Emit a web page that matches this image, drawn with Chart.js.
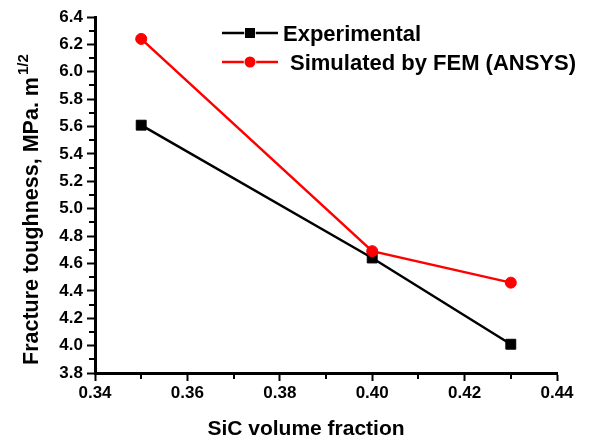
<!DOCTYPE html>
<html>
<head>
<meta charset="utf-8">
<script src="https://cdn.jsdelivr.net/npm/chart.js@4/dist/chart.umd.min.js"></script>
<style>
html,body{margin:0;padding:0;background:#fff;}
#wrap{width:592px;height:441px;}
</style>
</head>
<body>
<div id="wrap"><canvas id="c" width="592" height="441"></canvas></div>
<script>
const xValues = [0.35, 0.40, 0.43];
const experimental = [5.61, 4.64, 4.01];
const simulated = [6.24, 4.69, 4.46];
const seriesLabels = ['Experimental', 'Simulated by FEM (ANSYS)'];
const xTicks = [0.34, 0.36, 0.38, 0.40, 0.42, 0.44];
const yTicks = [3.8, 4.0, 4.2, 4.4, 4.6, 4.8, 5.0, 5.2, 5.4, 5.6, 5.8, 6.0, 6.2, 6.4];
const xTitle = 'SiC volume fraction';
const yTitle = 'Fracture toughness, MPa. m';
const yTitleSup = '1/2';

const FONT = '"Liberation Sans", Arial, sans-serif';

const bgPlugin = {
  id: 'bg',
  beforeDraw(chart) {
    const ctx = chart.ctx;
    ctx.save();
    ctx.fillStyle = '#fff';
    ctx.fillRect(0, 0, chart.width, chart.height);
    ctx.restore();
  }
};

const decorPlugin = {
  id: 'decor',
  afterDraw(chart) {
    const ctx = chart.ctx;
    const xs = chart.scales.x, ys = chart.scales.y;
    const area = chart.chartArea;
    ctx.save();
    // minor ticks
    ctx.strokeStyle = '#000';
    ctx.lineWidth = 2;
    for (let i = 0; i < xTicks.length - 1; i++) {
      const px = Math.round(xs.getPixelForValue((xTicks[i] + xTicks[i + 1]) / 2));
      ctx.beginPath();
      ctx.moveTo(px, area.bottom);
      ctx.lineTo(px, area.bottom + 6);
      ctx.stroke();
    }
    for (let i = 0; i < yTicks.length - 1; i++) {
      const py = Math.round(ys.getPixelForValue((yTicks[i] + yTicks[i + 1]) / 2));
      ctx.beginPath();
      ctx.moveTo(area.left, py);
      ctx.lineTo(area.left - 6, py);
      ctx.stroke();
    }
    // axis titles
    ctx.fillStyle = '#000';
    ctx.font = 'bold 21px ' + FONT;
    ctx.textAlign = 'center';
    ctx.textBaseline = 'alphabetic';
    ctx.fillText(xTitle, 306, 435);

    ctx.save();
    ctx.translate(38, 221);
    ctx.rotate(-Math.PI / 2);
    ctx.font = 'bold 21.5px ' + FONT;
    ctx.textAlign = 'center';
    ctx.textBaseline = 'alphabetic';
    const w = ctx.measureText(yTitle).width;
    ctx.fillText(yTitle, 0, 0);
    ctx.font = 'bold 15px ' + FONT;
    ctx.textAlign = 'left';
    ctx.fillText(yTitleSup, w / 2 + 2, -10);
    ctx.restore();

    // legend
    const ds = chart.data.datasets;
    const items = [
      {d: ds[0], y: 33, tx: 283, shape: 'rect'},
      {d: ds[1], y: 62, tx: 290, shape: 'circle'}
    ];
    items.forEach(it => {
      ctx.strokeStyle = it.d.borderColor;
      ctx.lineWidth = 2.5;
      ctx.beginPath();
      ctx.moveTo(222, it.y);
      ctx.lineTo(278, it.y);
      ctx.stroke();
      ctx.fillStyle = it.d.borderColor;
      ctx.strokeStyle = '#fff';
      ctx.lineWidth = 1.5;
      if (it.shape === 'rect') {
        ctx.beginPath();
        ctx.rect(245, it.y - 5, 10, 10);
        ctx.stroke();
        ctx.fill();
      } else {
        ctx.beginPath();
        ctx.arc(250, it.y, 5.5, 0, Math.PI * 2);
        ctx.stroke();
        ctx.fill();
      }
      ctx.fillStyle = '#000';
      ctx.font = 'bold 22px ' + FONT;
      ctx.textAlign = 'left';
      ctx.textBaseline = 'middle';
      ctx.fillText(it.d.label, it.tx, it.y + 2);
    });
    ctx.restore();
  }
};

new Chart(document.getElementById('c'), {
  type: 'line',
  data: {
    datasets: [
      {
        label: seriesLabels[0],
        data: xValues.map((x, i) => ({x: x, y: experimental[i]})),
        borderColor: '#000000',
        backgroundColor: '#000000',
        borderWidth: 2.5,
        pointStyle: 'rect',
        pointRadius: 7,
        pointBorderColor: '#000000',
        pointBackgroundColor: '#000000',
        pointBorderWidth: 1,
        tension: 0,
        order: 2
      },
      {
        label: seriesLabels[1],
        data: xValues.map((x, i) => ({x: x, y: simulated[i]})),
        borderColor: '#ff0000',
        backgroundColor: '#ff0000',
        borderWidth: 2.5,
        pointStyle: 'circle',
        pointRadius: 5.5,
        pointBorderColor: '#ff0000',
        pointBackgroundColor: '#ff0000',
        pointBorderWidth: 1,
        tension: 0,
        order: 1
      }
    ]
  },
  options: {
    responsive: false,
    animation: false,
    devicePixelRatio: 1,
    layout: {padding: {top: 17, right: 35, bottom: 0, left: 0}},
    plugins: {
      legend: {display: false},
      tooltip: {enabled: false}
    },
    scales: {
      x: {
        type: 'linear',
        min: 0.34,
        max: 0.44,
        afterBuildTicks: s => { s.ticks = xTicks.map(v => ({value: v})); },
        afterFit: s => { s.height = 68; },
        ticks: {
          color: '#000',
          font: {family: FONT, size: 17, weight: 'bold'},
          padding: 2,
          maxRotation: 0,
          autoSkip: false,
          callback: v => Number(v).toFixed(2)
        },
        grid: {display: true, drawOnChartArea: false, drawTicks: true, tickLength: 8, tickWidth: 2, tickColor: '#000'},
        border: {display: true, color: '#000', width: 3},
        title: {display: false}
      },
      y: {
        type: 'linear',
        min: 3.8,
        max: 6.4,
        afterBuildTicks: s => { s.ticks = yTicks.map(v => ({value: v})); },
        afterFit: s => { s.width = 95; },
        ticks: {
          color: '#000',
          font: {family: FONT, size: 17, weight: 'bold'},
          padding: 4,
          autoSkip: false,
          callback: v => Number(v).toFixed(1)
        },
        grid: {display: true, drawOnChartArea: false, drawTicks: true, tickLength: 8, tickWidth: 2, tickColor: '#000'},
        border: {display: true, color: '#000', width: 3},
        title: {display: false}
      }
    }
  },
  plugins: [bgPlugin, decorPlugin]
});
</script>
</body>
</html>
